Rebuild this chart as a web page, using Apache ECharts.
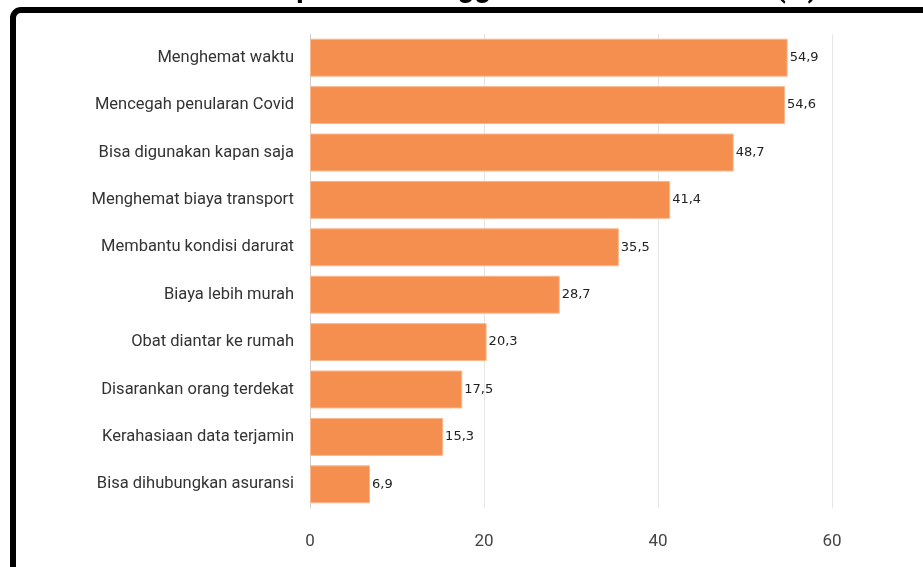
<!DOCTYPE html>
<html><head><meta charset="utf-8">
<script src="https://cdn.jsdelivr.net/npm/echarts@6/dist/echarts.min.js"></script>
<style>html,body{margin:0;padding:0;background:#fff}#c{width:923px;height:567px}</style>
</head><body><div id="c"></div>
<script>
const titleText = 'Alasan Responden Menggunakan Telemedicine (%)';
const categories = ['Menghemat waktu','Mencegah penularan Covid','Bisa digunakan kapan saja','Menghemat biaya transport','Membantu kondisi darurat','Biaya lebih murah','Obat diantar ke rumah','Disarankan orang terdekat','Kerahasiaan data terjamin','Bisa dihubungkan asuransi'];
const values = [54.9,54.6,48.7,41.4,35.5,28.7,20.3,17.5,15.3,6.9];
const xTicks = [0,20,40,60];

const chart = echarts.init(document.getElementById('c'), null, {renderer:'canvas'});
chart.setOption({
  animation:false,
  graphic:[
    {type:'rect', shape:{x:13, y:10, width:1000, height:700, r:8}, style:{fill:'none', stroke:'#000', lineWidth:6}, z:10},
    {type:'text', x:484, y:4, style:{text:titleText, font:'bold 29px Roboto', fill:'#000', align:'center', verticalAlign:'bottom'}, z:10}
  ],
  grid:{left:310, right:91, top:34, bottom:59, containLabel:false},
  xAxis:{type:'value', min:xTicks[0], max:xTicks[xTicks.length-1], interval:20,
    axisLine:{show:false}, axisTick:{show:false},
    splitLine:{lineStyle:{color:'#e6e6e6', width:1}},
    axisLabel:{margin:25, fontFamily:'Roboto', fontSize:17, color:'#444'}},
  yAxis:{type:'category', data:categories, inverse:true,
    axisLine:{lineStyle:{color:'#d0d0d0'}},
    axisTick:{alignWithLabel:true, length:6, lineStyle:{color:'#d0d0d0'}},
    axisLabel:{margin:16, fontFamily:'Roboto', fontSize:16.5, color:'#333'}},
  series:[{type:'bar', data:values, barCategoryGap:'20%',
    itemStyle:{color:'#F58F50', borderColor:'#FAB68C', borderWidth:1},
    label:{show:true, position:'right', distance:2, fontFamily:'DejaVu Sans', fontSize:13, color:'#222',
      formatter:p=>String(p.value).replace('.',',')}}]
});
</script></body></html>
